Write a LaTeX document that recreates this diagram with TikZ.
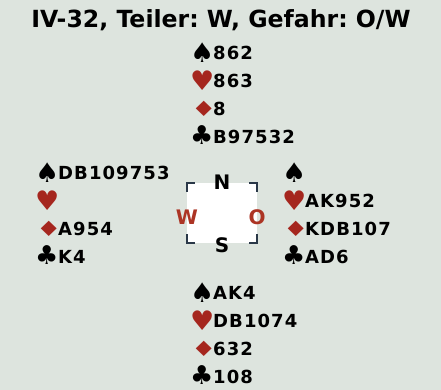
\documentclass[tikz,border=0pt]{standalone}
\usepackage{fontspec}
\setmainfont{DejaVu Sans}
\newfontfamily\handfont[LetterSpace=6]{DejaVu Sans}
\usetikzlibrary{positioning}
\definecolor{bgcol}{RGB}{221,228,222}
\definecolor{suitred}{RGB}{165,38,30}
\definecolor{dirred}{RGB}{172,52,36}
\definecolor{framecol}{RGB}{42,56,72}

\newcommand{\spd}{\makebox[23pt][l]{\raisebox{-3pt}{\fontsize{27}{27}\selectfont ♠}}}
\newcommand{\hrt}{\makebox[23pt][l]{\raisebox{-3pt}{\color{suitred}\fontsize{27}{27}\selectfont ♥}}}
\newcommand{\dia}{\makebox[23pt][l]{\hspace{1pt}\raisebox{-1pt}{\color{suitred}\scalebox{1.35}[1]{\fontsize{21}{21}\selectfont ♦}}}}
\newcommand{\clb}{\makebox[23pt][l]{\raisebox{-1.5pt}{\fontsize{26}{26}\selectfont ♣}}}

\begin{document}
\frenchspacing
\begin{tikzpicture}[x=1pt,y=-1pt,
    hand/.style={align=left, inner sep=0pt, anchor=base west,
      font=\handfont\bfseries\fontsize{18}{27.7}\selectfont},
    dirlbl/.style={inner sep=0pt, font=\bfseries\fontsize{20}{20}\selectfont},
    bracket/.style={draw=framecol, line width=1.6pt}
  ]
  \fill[bgcol] (0,0) rectangle (441,390);
  \useasboundingbox (0,0) rectangle (441,390);

  % title
  \node[anchor=base, inner sep=0pt, font=\bfseries\fontsize{23.6}{23.6}\selectfont]
    (title) at (221,28) {IV-32, Teiler: W, Gefahr: O/W};

  % hands (anchored at the baseline of the last line)
  \node[hand] (north) at (190,143) {\spd 862\\ \hrt 863\\ \dia 8\\ \clb B97532};
  \node[hand] (west) at (35,263) {\spd DB109753\\ \hrt \\ \dia A954\\ \clb K4};
  \node[hand] (east) at (282,263) {\spd \\ \hrt AK952\\ \dia KDB107\\ \clb AD6};
  \node[hand] (south) at (190,383) {\spd AK4\\ \hrt DB1074\\ \dia 632\\ \clb 108};

  % compass
  \node[fill=white, minimum width=70pt, minimum height=60pt, inner sep=0pt] (box) at (222,213) {};
  \draw[bracket] ([xshift=8pt]box.north west) -| ([yshift=-9pt]box.north west);
  \draw[bracket] ([xshift=-8pt]box.north east) -| ([yshift=-9pt]box.north east);
  \draw[bracket] ([xshift=8pt]box.south west) -| ([yshift=9pt]box.south west);
  \draw[bracket] ([xshift=-8pt]box.south east) -| ([yshift=9pt]box.south east);
  \node[dirlbl] (nlbl) at ([yshift=1pt]box.north) {N};
  \node[dirlbl] (slbl) at ([yshift=-2pt]box.south) {S};
  \node[dirlbl, dirred] (wlbl) at ([yshift=-4pt]box.west) {W};
  \node[dirlbl, dirred] (olbl) at ([yshift=-4pt]box.east) {O};
\end{tikzpicture}
\end{document}
